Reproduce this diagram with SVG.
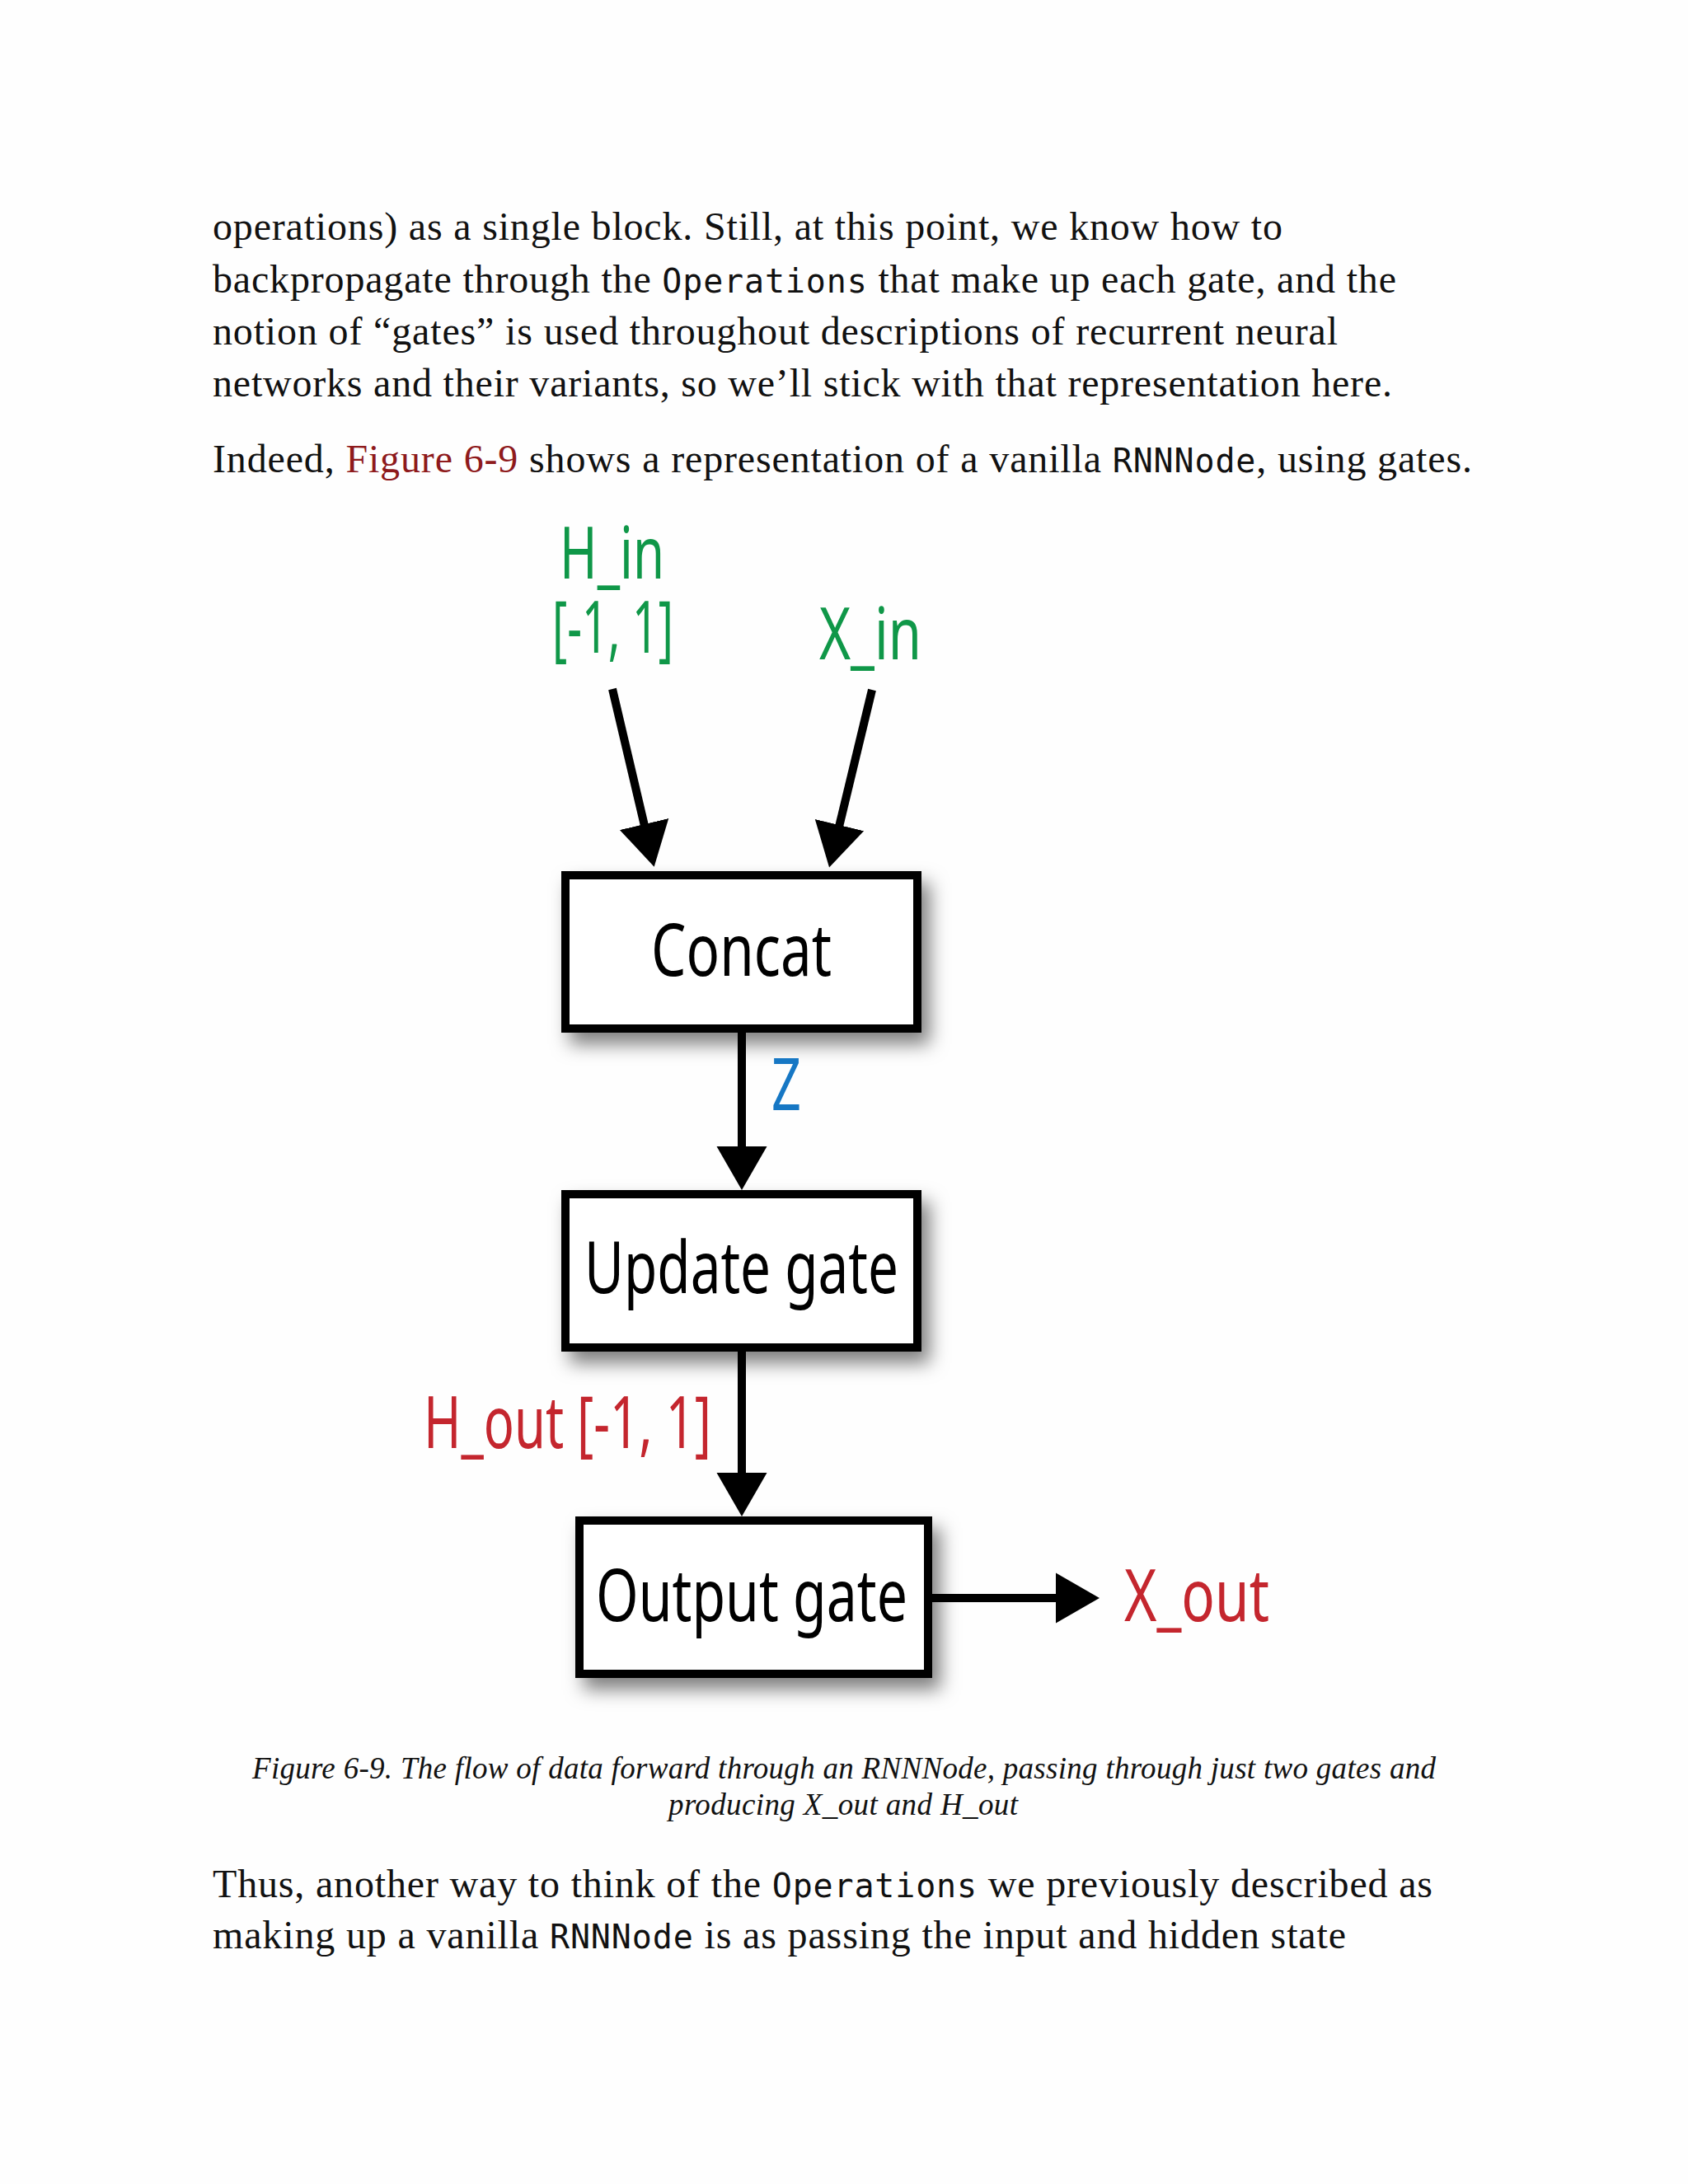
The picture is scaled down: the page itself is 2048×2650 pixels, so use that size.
<svg xmlns="http://www.w3.org/2000/svg" width="2048" height="2650" viewBox="0 0 2048 2650">
  <defs>
    <style>
      .body { font-family: "Liberation Serif", "Times New Roman", serif; font-size: 48px; fill: #111; }
      .mono { font-family: "DejaVu Sans Mono", "Liberation Mono", monospace; font-size: 40px; }
      .link { fill: #8e1a1c; }
      .cap { font-family: "Liberation Serif", "Times New Roman", serif; font-size: 37px; font-style: italic; fill: #111; }
      .lbl { font-family: "Noto Sans", "Open Sans", sans-serif; font-size: 87px; }
      .green { fill: #0f9748; }
      .red { fill: #c4262e; }
      .blue { fill: #1677c4; }
      .black { fill: #000; }
      .box { fill: #fff; stroke: #000; stroke-width: 10; }
      .edge { stroke: #000; stroke-width: 10; fill: none; marker-end: url(#arrow); }
    </style>
    <marker id="arrow" markerUnits="userSpaceOnUse" markerWidth="56" markerHeight="64" refX="2" refY="31" orient="auto" viewBox="0 0 56 64">
      <path d="M0,0.5 L53,31 L0,61.5 Z" fill="#000"/>
    </marker>
    <filter id="shadow" x="-20%" y="-20%" width="150%" height="170%">
      <feDropShadow dx="10" dy="14" stdDeviation="11" flood-color="#000" flood-opacity="0.5"/>
    </filter>
  </defs>

  <rect x="0" y="0" width="2048" height="2650" fill="#fefefe"/>

  <g id="text-above">
    <text class="body" x="258" y="291" textLength="1298" lengthAdjust="spacing">operations) as a single block. Still, at this point, we know how to</text>
    <text class="body" x="258" y="355" textLength="1436" lengthAdjust="spacing">backpropagate through the <tspan class="mono">Operations</tspan> that make up each gate, and the</text>
    <text class="body" x="258" y="418" textLength="1365" lengthAdjust="spacing">notion of “gates” is used throughout descriptions of recurrent neural</text>
    <text class="body" x="258" y="481" textLength="1431" lengthAdjust="spacing">networks and their variants, so we’ll stick with that representation here.</text>
    <text class="body" x="258" y="573" textLength="1528" lengthAdjust="spacing">Indeed, <tspan class="link">Figure 6-9</tspan> shows a representation of a vanilla <tspan class="mono">RNNNode</tspan>, using gates.</text>
  </g>

  <g id="connectors">
    <line class="edge" x1="743" y1="836" x2="782" y2="1002"/>
    <line class="edge" x1="1058" y1="837" x2="1018" y2="1003"/>
    <line class="edge" x1="900" y1="1253" x2="900" y2="1393"/>
    <line class="edge" x1="900" y1="1640" x2="900" y2="1789"/>
    <line class="edge" x1="1131" y1="1939" x2="1283" y2="1939"/>
  </g>

  <g id="label-h-in">
    <text class="lbl green" x="742.5" y="702" text-anchor="middle" textLength="127" lengthAdjust="spacingAndGlyphs">H_in</text>
    <text class="lbl green" x="743.5" y="792" text-anchor="middle" textLength="147" lengthAdjust="spacingAndGlyphs">[-1, 1]</text>
  </g>
  <g id="label-x-in">
    <text class="lbl green" x="1056" y="800" text-anchor="middle" textLength="124" lengthAdjust="spacingAndGlyphs">X_in</text>
  </g>

  <g id="node-concat">
    <rect class="box" x="686" y="1062" width="427" height="186" filter="url(#shadow)"/>
    <text class="lbl black" x="899.5" y="1184" text-anchor="middle" textLength="219" lengthAdjust="spacingAndGlyphs">Concat</text>
  </g>

  <g id="label-z">
    <text class="lbl blue" x="954" y="1347" text-anchor="middle" textLength="36" lengthAdjust="spacingAndGlyphs">Z</text>
  </g>

  <g id="node-update">
    <rect class="box" x="686" y="1449" width="427" height="186" filter="url(#shadow)"/>
    <text class="lbl black" x="899.5" y="1569" text-anchor="middle" textLength="381" lengthAdjust="spacingAndGlyphs">Update gate</text>
  </g>

  <g id="label-h-out">
    <text class="lbl red" x="688.5" y="1757" text-anchor="middle" textLength="349" lengthAdjust="spacingAndGlyphs">H_out [-1, 1]</text>
  </g>

  <g id="node-output">
    <rect class="box" x="703" y="1845" width="423" height="186" filter="url(#shadow)"/>
    <text class="lbl black" x="912" y="1967" text-anchor="middle" textLength="378" lengthAdjust="spacingAndGlyphs">Output gate</text>
  </g>

  <g id="label-x-out">
    <text class="lbl red" x="1452" y="1967" text-anchor="middle" textLength="176" lengthAdjust="spacingAndGlyphs">X_out</text>
  </g>

  <g id="caption">
    <text class="cap" x="1024" y="2158" text-anchor="middle" textLength="1436" lengthAdjust="spacing">Figure 6-9. The flow of data forward through an RNNNode, passing through just two gates and</text>
    <text class="cap" x="1023" y="2202" text-anchor="middle" textLength="424" lengthAdjust="spacing">producing X_out and H_out</text>
  </g>

  <g id="text-below">
    <text class="body" x="258" y="2302" textLength="1480" lengthAdjust="spacing">Thus, another way to think of the <tspan class="mono">Operations</tspan> we previously described as</text>
    <text class="body" x="258" y="2364" textLength="1375" lengthAdjust="spacing">making up a vanilla <tspan class="mono">RNNNode</tspan> is as passing the input and hidden state</text>
  </g>
</svg>
